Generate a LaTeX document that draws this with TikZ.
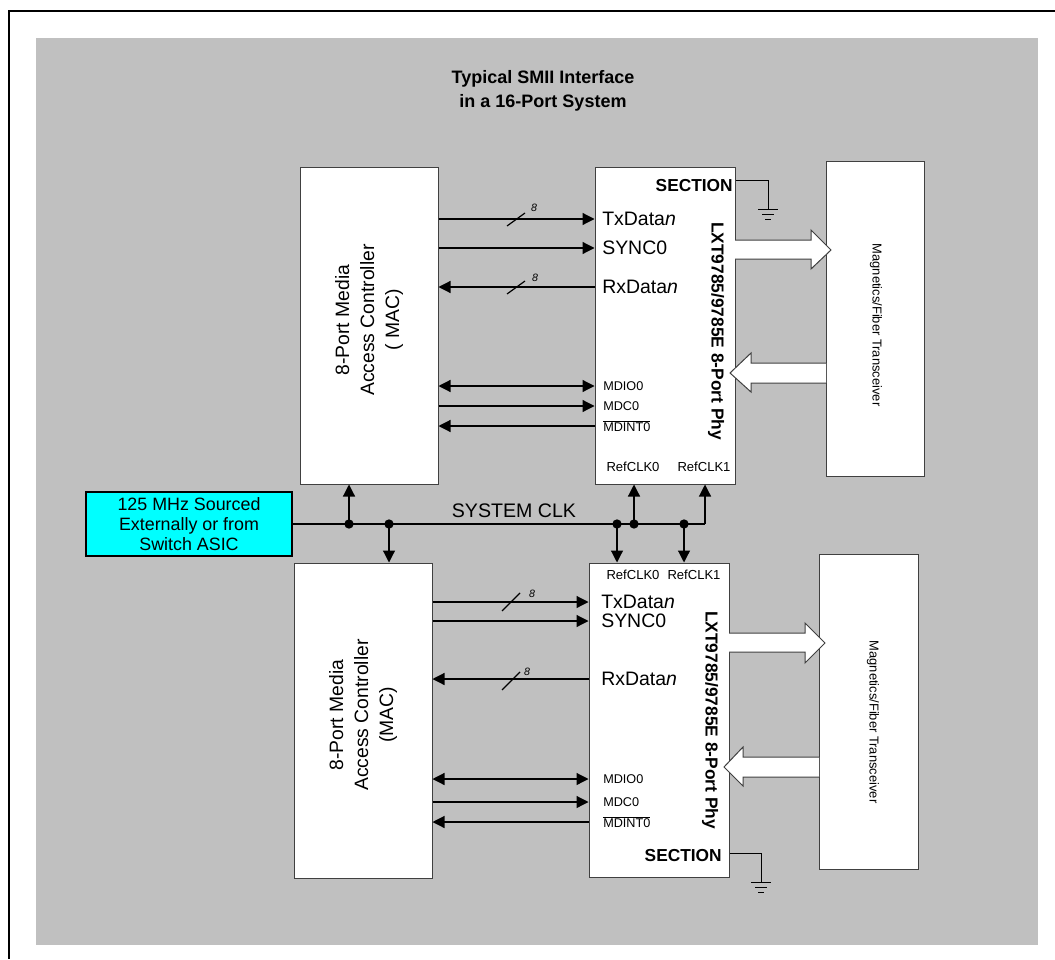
\documentclass[tikz,border=0pt]{standalone}
\usepackage{fontspec}
\setmainfont{Liberation Sans}
\usetikzlibrary{arrows.meta,positioning}
\definecolor{panelgray}{RGB}{192,192,192}
\definecolor{asiccyan}{RGB}{0,255,255}

\begin{document}
\begin{tikzpicture}[
    x=0.75pt, y=-0.75pt,
    box/.style={rectangle, draw=black!75, fill=white, line width=0.75pt, inner sep=0pt},
    wire/.style={line width=0.9pt},
    arrow/.style={-{Triangle[length=9pt, width=9pt]}, line width=0.9pt},
    dblarrow/.style={{Triangle[length=9pt, width=9pt]}-{Triangle[length=9pt, width=9pt]}, line width=0.9pt},
    bigarrow/.style={draw=black!75, line width=0.75pt, line join=miter},
    pinbig/.style={anchor=west, inner sep=0pt, font=\fontsize{14.6}{17}\selectfont},
    pinsmall/.style={anchor=west, inner sep=0pt, font=\fontsize{9.5}{11}\selectfont},
    refclk/.style={inner sep=0pt, font=\fontsize{9.8}{11}\selectfont},
    section/.style={anchor=east, inner sep=0pt, font=\fontsize{13}{15}\selectfont\bfseries},
    phyname/.style={rotate=-90, inner sep=0pt, font=\fontsize{13}{15}\selectfont\bfseries},
    macname/.style={rotate=90, inner sep=0pt, align=center, font=\fontsize{14.5}{18.75}\selectfont},
    magname/.style={rotate=-90, inner sep=0pt, font=\fontsize{9.7}{11}\selectfont},
    eight/.style={inner sep=0pt, font=\fontsize{8}{9}\selectfont\itshape},
    tap/.style={circle, fill=black, inner sep=0pt, minimum size=7pt}
]
    \useasboundingbox (0,0) rectangle (1055,959);
    \draw[line width=1.5pt] (1055,11) -- (9,11) -- (9,959);
    \fill[panelgray] (36,38) rectangle (1038,945);

    \node[align=center, font=\fontsize{13.5}{18}\selectfont\bfseries] (title) at (543,91) {Typical SMII Interface\\in a 16-Port System};

    % upper section
    \node[box, minimum width=103.5pt, minimum height=237pt] (macA) at (369,326) {};
    \node[box, minimum width=105pt, minimum height=237pt] (phyA) at (665,326) {};
    \node[box, minimum width=73.5pt, minimum height=235.5pt] (magA) at (875,319) {};
    \node[macname] (macAtxt) at (369,320) {8-Port Media\\Access Controller\\( MAC)};
    \node[phyname] (phyAtxt) at (716,331) {LXT9785/9785E 8-Port Phy};
    \node[magname] (magAtxt) at (876,325) {Magnetics/Fiber Transceiver};
    \node[section] (secA) at (733,186) {SECTION};

    \node[pinbig] (txA) at (602,219) {TxData\textit{n}};
    \node[pinbig] (syncA) at (602,248) {SYNC0};
    \node[pinbig] (rxA) at (602,287) {RxData\textit{n}};
    \node[pinsmall] (mdioA) at (603,386) {MDIO0};
    \node[pinsmall] (mdcA) at (603,406) {MDC0};
    \node[pinsmall] (mdintA) at (603,426) {$\overline{\mbox{MDINT0}}$};
    \node[refclk] (refA0) at (633,467) {RefCLK0};
    \node[refclk] (refA1) at (704,467) {RefCLK1};

    \draw[arrow] (macA.east |- txA) -- (phyA.west |- txA);
    \draw[arrow] (macA.east |- syncA) -- (phyA.west |- syncA);
    \draw[arrow] (phyA.west |- rxA) -- (macA.east |- rxA);
    \draw[dblarrow] (macA.east |- mdioA) -- (phyA.west |- mdioA);
    \draw[arrow] (macA.east |- mdcA) -- (phyA.west |- mdcA);
    \draw[arrow] (phyA.west |- mdintA) -- (macA.east |- mdintA);
    \draw[wire] (507,226) -- (525,213);
    \node[eight] (busTxA) at (534,208) {8};
    \draw[wire] (507,294) -- (525,281);
    \node[eight] (busRxA) at (535,278) {8};

    \fill[white] (735,240) -- (811,240) -- (811,230) -- (831,250) -- (811,269) -- (811,259) -- (735,259) -- cycle;
    \draw[bigarrow] (735,240) -- (811,240) -- (811,230) -- (831,250) -- (811,269) -- (811,259) -- (735,259);
    \fill[white] (826,363) -- (751,363) -- (751,353) -- (730,373) -- (751,392) -- (751,383) -- (826,383) -- cycle;
    \draw[bigarrow] (826,363) -- (751,363) -- (751,353) -- (730,373) -- (751,392) -- (751,383) -- (826,383);

    \coordinate (gndA) at (768,210);
    \draw[line width=0.75pt] (phyA.east |- 0,181) -| (gndA);
    \draw[line width=0.75pt] (758,210) -- (778,210) (762,215) -- (774,215) (765,220) -- (771,220);

    % clock source and bus
    \node[box, draw=black, line width=1.5pt, fill=asiccyan, minimum width=154.5pt, minimum height=48pt,
          align=center, font=\fontsize{13.4}{15}\selectfont] (clksrc) at (189,524) {125 MHz Sourced\\Externally or from\\Switch ASIC};
    \node[font=\fontsize{14.7}{17}\selectfont, inner sep=0pt] (sysclk) at (514,511) {SYSTEM CLK};
    \coordinate (bend) at (705,524);
    \node[tap] (tapMacA) at (349,524) {};
    \node[tap] (tapMacB) at (389,524) {};
    \node[tap] (tapRefB0) at (617,524) {};
    \node[tap] (tapRefA0) at (634,524) {};
    \node[tap] (tapRefB1) at (684,524) {};
    \draw[wire] (clksrc.east) -- (bend);
    \draw[arrow] (bend) -- (phyA.south -| bend);
    \draw[arrow] (tapMacA.center) -- (macA.south -| tapMacA);
    \draw[arrow] (tapRefA0.center) -- (phyA.south -| tapRefA0);

    % lower section
    \node[box, minimum width=103.5pt, minimum height=236.25pt] (macB) at (363,720.5) {};
    \node[box, minimum width=105pt, minimum height=235.5pt] (phyB) at (659,720) {};
    \node[box, minimum width=74.25pt, minimum height=236.25pt] (magB) at (868.5,711.5) {};
    \node[macname] (macBtxt) at (363,715) {8-Port Media\\Access Controller\\(MAC)};
    \node[phyname] (phyBtxt) at (710,720) {LXT9785/9785E 8-Port Phy};
    \node[magname] (magBtxt) at (873,722) {Magnetics/Fiber Transceiver};
    \node[section] (secB) at (722,856) {SECTION};

    \node[pinbig] (txB) at (601,602) {TxData\textit{n}};
    \node[pinbig] (syncB) at (601,621) {SYNC0};
    \node[pinbig] (rxB) at (601,679) {RxData\textit{n}};
    \node[pinsmall] (mdioB) at (603,779) {MDIO0};
    \node[pinsmall] (mdcB) at (603,802) {MDC0};
    \node[pinsmall] (mdintB) at (603,822) {$\overline{\mbox{MDINT0}}$};
    \node[refclk] (refB0) at (633,575) {RefCLK0};
    \node[refclk] (refB1) at (694,575) {RefCLK1};

    \draw[arrow] (tapMacB.center) -- (macB.north -| tapMacB);
    \draw[arrow] (tapRefB0.center) -- (phyB.north -| tapRefB0);
    \draw[arrow] (tapRefB1.center) -- (phyB.north -| tapRefB1);

    \draw[arrow] (macB.east |- txB) -- (phyB.west |- txB);
    \draw[arrow] (macB.east |- syncB) -- (phyB.west |- syncB);
    \draw[arrow] (phyB.west |- rxB) -- (macB.east |- rxB);
    \draw[dblarrow] (macB.east |- mdioB) -- (phyB.west |- mdioB);
    \draw[arrow] (macB.east |- mdcB) -- (phyB.west |- mdcB);
    \draw[arrow] (phyB.west |- mdintB) -- (macB.east |- mdintB);
    \draw[wire] (502,611) -- (520,593);
    \node[eight] (busTxB) at (532,594) {8};
    \draw[wire] (502,690) -- (520,672);
    \node[eight] (busRxB) at (527,672) {8};

    \fill[white] (729,633) -- (805,633) -- (805,623) -- (825,643) -- (805,663) -- (805,652) -- (729,652) -- cycle;
    \draw[bigarrow] (729,633) -- (805,633) -- (805,623) -- (825,643) -- (805,663) -- (805,652) -- (729,652);
    \fill[white] (819,757) -- (743,757) -- (743,747) -- (724,767) -- (743,786) -- (743,777) -- (819,777) -- cycle;
    \draw[bigarrow] (819,757) -- (743,757) -- (743,747) -- (724,767) -- (743,786) -- (743,777) -- (819,777);

    \coordinate (gndB) at (761,882);
    \draw[line width=0.75pt] (phyB.east |- 0,853) -| (gndB);
    \draw[line width=0.75pt] (751,882) -- (771,882) (755,887) -- (767,887) (758,892) -- (764,892);
\end{tikzpicture}
\end{document}
